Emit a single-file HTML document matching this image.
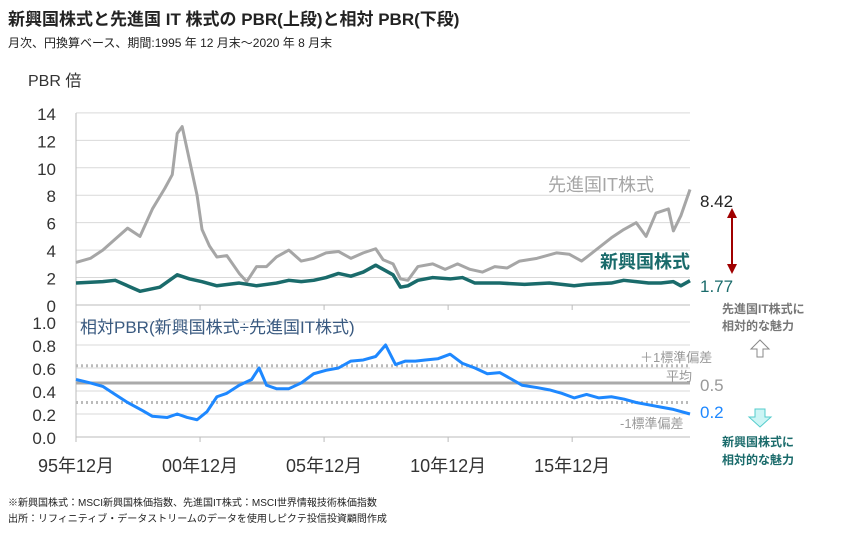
<!DOCTYPE html>
<html><head><meta charset="utf-8"><style>
body{margin:0;background:#fff;width:844px;height:534px;overflow:hidden;font-family:"Liberation Sans","Noto Sans CJK JP",sans-serif}
svg text{font-family:"Liberation Sans","Noto Sans CJK JP",sans-serif}
</style></head><body>
<svg id="c" width="844" height="534">
<text x="8" y="25" font-size="17" font-weight="bold" fill="#222">新興国株式と先進国 IT 株式の PBR(上段)と相対 PBR(下段)</text>
<text x="8" y="47" font-size="12" fill="#222">月次、円換算ベース、期間:1995 年 12 月末～2020 年 8 月末</text>
<text x="28" y="86" font-size="16" fill="#333">PBR 倍</text>
<g id="g"></g>
<text x="548" y="191" font-size="18" fill="#a6a6a6">先進国IT株式</text>
<text x="700" y="207" font-size="17" fill="#222">8.42</text>
<text x="600" y="268" font-size="18" font-weight="bold" fill="#1a6b6b">新興国株式</text>
<text x="700" y="292" font-size="17" fill="#1a6b6b">1.77</text>
<line x1="732" y1="212" x2="732" y2="270" stroke="#a00000" stroke-width="2"/>
<polygon points="727,218 737,218 732,208" fill="#a00000"/><polygon points="727,264 737,264 732,274" fill="#a00000"/>
<text x="80" y="333" font-size="17" fill="#3a5a80">相対PBR(新興国株式÷先進国IT株式)</text>
<text x="640" y="362" font-size="13" fill="#999">＋1標準偏差</text>
<text x="666" y="381" font-size="13" fill="#999">平均</text>
<text x="700" y="391" font-size="17" fill="#999">0.5</text>
<text x="620" y="428" font-size="13" fill="#999">-1標準偏差</text>
<text x="700" y="418" font-size="17" fill="#1e88ff">0.2</text>
<text x="722" y="313" font-size="12" font-weight="bold" fill="#777">先進国IT株式に</text>
<text x="722" y="330" font-size="12" font-weight="bold" fill="#777">相対的な魅力</text>
<polygon points="757,341 763,341 763,349 769,349 760,358 751,349 757,349" fill="#fff" stroke="#888" transform="rotate(180 760 349)"/>
<polygon points="755,409 765,409 765,417 771,417 760,427 749,417 755,417" fill="#ccf5f5" stroke="#5cc"/>
<text x="722" y="446" font-size="12" font-weight="bold" fill="#1a6b6b">新興国株式に</text>
<text x="722" y="464" font-size="12" font-weight="bold" fill="#1a6b6b">相対的な魅力</text>
<text x="8" y="506" font-size="10" fill="#222">※新興国株式：MSCI新興国株価指数、先進国IT株式：MSCI世界情報技術株価指数</text>
<text x="8" y="522" font-size="10" fill="#222">出所：リフィニティブ・データストリームのデータを使用しピクテ投信投資顧問作成</text>
</svg>
<script>
const itDates=[1995.92,1996.5,1997.0,1997.5,1998.0,1998.5,1999.0,1999.5,1999.8,2000.0,2000.2,2000.5,2000.8,2001.0,2001.3,2001.6,2002.0,2002.5,2002.8,2003.2,2003.6,2004.0,2004.5,2005.0,2005.5,2006.0,2006.5,2007.0,2007.5,2008.0,2008.3,2008.7,2009.0,2009.3,2009.7,2010.3,2010.8,2011.3,2011.8,2012.3,2012.8,2013.3,2013.8,2014.5,2015.3,2015.8,2016.3,2016.8,2017.5,2018.0,2018.5,2018.9,2019.3,2019.8,2020.0,2020.3,2020.67];
const itValues=[3.1,3.4,4.0,4.8,5.6,5.0,7.0,8.5,9.5,12.5,13.0,10.5,8.0,5.5,4.3,3.5,3.6,2.3,1.7,2.8,2.8,3.5,4.0,3.2,3.4,3.8,3.9,3.4,3.8,4.1,3.3,3.0,1.9,1.8,2.8,3.0,2.6,3.0,2.6,2.4,2.8,2.7,3.2,3.4,3.8,3.7,3.2,3.9,4.9,5.5,6.0,5.0,6.7,7.0,5.4,6.5,8.42];
const emDates=[1995.92,1997.0,1997.5,1998.5,1999.3,2000.0,2000.5,2001.0,2001.6,2002.5,2003.2,2004.0,2004.5,2005.0,2005.5,2006.0,2006.5,2007.0,2007.5,2008.0,2008.3,2008.7,2009.0,2009.3,2009.7,2010.3,2011.0,2011.5,2012.0,2013.0,2014.0,2015.0,2016.0,2016.5,2017.5,2018.0,2018.5,2019.0,2019.5,2020.0,2020.3,2020.67];
const emValues=[1.6,1.7,1.8,1.0,1.3,2.2,1.9,1.7,1.4,1.6,1.4,1.6,1.8,1.7,1.8,2.0,2.3,2.1,2.4,2.9,2.6,2.2,1.3,1.4,1.8,2.0,1.9,2.0,1.6,1.6,1.5,1.6,1.4,1.5,1.6,1.8,1.7,1.6,1.6,1.7,1.4,1.77];
const relDates=[1995.92,1996.5,1997.0,1997.5,1998.0,1998.6,1999.0,1999.6,2000.0,2000.4,2000.8,2001.2,2001.6,2002.0,2002.5,2003.0,2003.3,2003.6,2004.0,2004.5,2005.0,2005.5,2006.0,2006.5,2007.0,2007.5,2008.0,2008.4,2008.8,2009.2,2009.6,2010.0,2010.5,2011.0,2011.5,2012.0,2012.5,2013.0,2013.5,2013.9,2014.5,2015.0,2015.5,2016.0,2016.5,2017.0,2017.5,2018.0,2018.5,2019.0,2019.5,2020.0,2020.67];
const relValues=[0.5,0.47,0.44,0.37,0.3,0.23,0.18,0.17,0.2,0.17,0.15,0.22,0.35,0.38,0.45,0.5,0.6,0.45,0.42,0.42,0.47,0.55,0.58,0.6,0.66,0.67,0.7,0.8,0.63,0.66,0.66,0.67,0.68,0.72,0.64,0.6,0.55,0.56,0.5,0.45,0.43,0.41,0.38,0.34,0.37,0.34,0.35,0.33,0.3,0.28,0.26,0.24,0.2];
const topTicks=[0,2,4,6,8,10,12,14];
const botTicks=[0.0,0.2,0.4,0.6,0.8,1.0];
const xTickYears=[1995.92,2000.92,2005.92,2010.92,2015.92];
const xTickLabels=['95年12月','00年12月','05年12月','10年12月','15年12月'];
const bands=[0.47,0.62,0.3];
const NS='http://www.w3.org/2000/svg';
const g=document.getElementById('g');
const X=y=>76+(y-1995.92)*(614/24.75);
const YT=v=>305-v*13.72;
const YB=v=>437-v*115;
function mk(t,a){const e=document.createElementNS(NS,t);for(const k in a)e.setAttribute(k,a[k]);g.appendChild(e);return e;}
topTicks.forEach(v=>{const l=mk('line',{x1:76,x2:690,y1:YT(v),y2:YT(v),stroke:v?'#d9d9d9':'#bbb'});


const t=mk('text',{x:56,y:YT(v)+7,'font-size':17,'text-anchor':'end',fill:'#333'});t.textContent=v;

});
botTicks.forEach(v=>{const l=mk('line',{x1:76,x2:690,y1:YB(v),y2:YB(v),stroke:v?'#d9d9d9':'#bbb'});


const t=mk('text',{x:56,y:YB(v)+7,'font-size':17,'text-anchor':'end',fill:'#333'});t.textContent=v.toFixed(1);

});
mk('line',{x1:76,x2:76,y1:113,y2:440,stroke:'#bbb'});
xTickYears.forEach((y,i)=>{mk('line',{x1:X(y),x2:X(y),y1:305,y2:310,stroke:'#bbb'});mk('line',{x1:X(y),x2:X(y),y1:437,y2:442,stroke:'#bbb'});
const t=mk('text',{x:X(y),y:472,'font-size':18,'text-anchor':'middle',fill:'#333'});t.textContent=xTickLabels[i];

});
bands.forEach((v,i)=>{const l=mk('line',{x1:76,x2:690,y1:YB(v),y2:YB(v),stroke:i?'#bbb':'#aaa','stroke-width':3,'stroke-dasharray':i?'2 3':''});

});
function line(d,v,Y,c,n,w){const p=mk('polyline',{points:d.map((x,i)=>X(x)+','+Y(v[i])).join(' '),fill:'none',stroke:c,'stroke-width':w,'stroke-linejoin':'round'});

}
line(itDates,itValues,YT,'#a6a6a6','it-pbr-line',3);
line(emDates,emValues,YT,'#1a6b6b','em-pbr-line',3.5);
line(relDates,relValues,YB,'#1e88ff','relative-pbr-line',3);
</script>
</body></html>
